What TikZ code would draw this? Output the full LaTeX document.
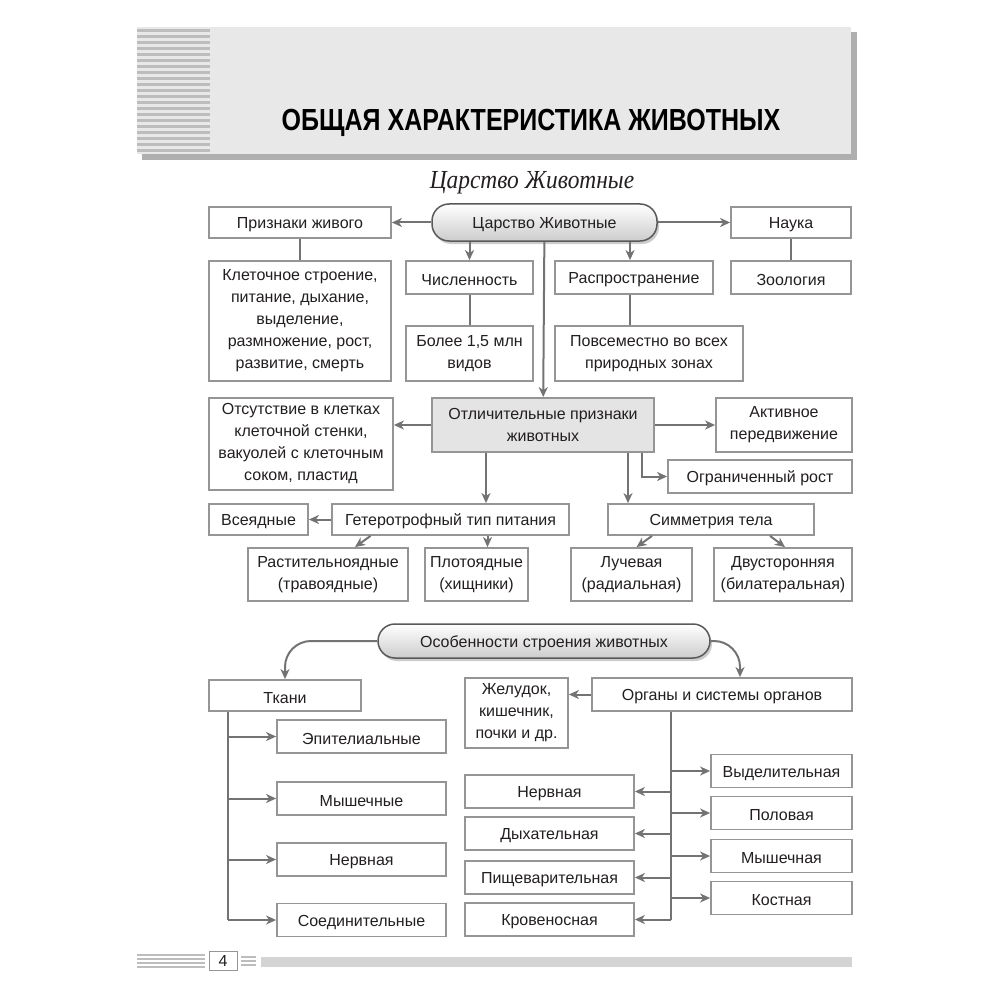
\documentclass[tikz,border=0pt]{standalone}
\usepackage{fontspec}
\setmainfont{Liberation Sans}
\newfontfamily\titlefont[FakeStretch=0.82]{Liberation Sans}
\newfontfamily\subfont[FakeStretch=0.9]{Liberation Serif}
\usetikzlibrary{arrows.meta,shadows}

\definecolor{ink}{HTML}{231F20}
\definecolor{linegray}{HTML}{737373}
\definecolor{boxgray}{HTML}{959595}
\definecolor{headgray}{HTML}{E8E8E8}
\definecolor{shadegray}{HTML}{AFAFAF}
\definecolor{stripegray}{HTML}{BDBDBD}
\definecolor{keygray}{HTML}{E4E4E4}
\definecolor{bargray}{HTML}{D4D4D4}

\newcommand\boxfont{\fontsize{16}{22}\selectfont}

\tikzset{
  box/.style={draw=boxgray, line width=1.8pt, fill=white, inner sep=0pt,
    align=center, text=ink, font=\boxfont,
    execute at begin node={\rule{0pt}{16pt}}},
  keybox/.style={box, fill=keygray},
  pill/.style={draw=black!65, line width=1.5pt, rounded corners=17pt,
    top color=white, bottom color=black!20, inner sep=0pt, text=ink,
    font=\boxfont, execute at begin node={\rule{0pt}{16pt}},
    drop shadow={shadow xshift=2pt, shadow yshift=-3pt, fill=black!40}},
  conn/.style={draw=linegray, line width=2pt},
  arr/.style={conn, -{Stealth[length=10pt,width=9pt,inset=3pt]}},
  curvearr/.style={arr, rounded corners=26pt},
}

\begin{document}
\begin{tikzpicture}[x=1pt, y=-1pt]
\useasboundingbox (0,0) rectangle (1000,1000);

% header
\fill[shadegray] (142,32) rectangle (857,160);
\fill[headgray] (137,27) rectangle (851,154);
\foreach \y in {29,35,...,149}
  \fill[stripegray] (137,\y) rectangle (210,\y+3);
\node[font=\titlefont\bfseries\fontsize{30.5}{34}\selectfont, text=black] (title) at (531,122.5) {ОБЩАЯ ХАРАКТЕРИСТИКА ЖИВОТНЫХ};
\node[font=\subfont\itshape\fontsize{26}{30}\selectfont, text=ink] (subtitle) at (532,183) {Царство Животные};

% top block
\node[pill, minimum width=225pt, minimum height=37pt] (tsar) at (544.5,222.5) {Царство Животные};
\node[box, minimum width=182pt, minimum height=31pt] (priz) at (300,222.5) {Признаки живого};
\node[box, minimum width=120pt, minimum height=31pt] (nauka) at (791,222.5) {Наука};
\node[box, minimum width=182pt, minimum height=120pt] (kletoch) at (300,321) {Клеточное строение,\\питание, дыхание,\\выделение,\\размножение, рост,\\развитие, смерть};
\node[box, minimum width=127pt, minimum height=33pt] (chis) at (469.5,277.5) {Численность};
\node[box, minimum width=158pt, minimum height=33pt] (rasp) at (634,277.5) {Распространение};
\node[box, minimum width=120pt, minimum height=33pt] (zool) at (791,277.5) {Зоология};
\node[box, minimum width=127pt, minimum height=55pt] (bolee) at (469.5,353.5) {Более 1,5 млн\\видов};
\node[box, minimum width=188pt, minimum height=55pt] (povs) at (649,353.5) {Повсеместно во всех\\природных зонах};

\draw[arr] (tsar) -- (priz);
\draw[arr] (tsar) -- (nauka);
\draw[arr] (tsar.south -| chis.north) -- (chis.north);
\draw[arr] ([xshift=-4pt]tsar.south -| rasp.north) -- ([xshift=-4pt]rasp.north);
\draw[conn] (priz) -- (kletoch);
\draw[conn] (nauka) -- (zool);
\draw[conn] (chis) -- (bolee);
\draw[conn] ([xshift=-4pt]rasp.south) -- ([xshift=-4pt]rasp.south |- povs.north);

% distinctive features
\node[keybox, minimum width=222pt, minimum height=54pt] (otlich) at (543,425) {Отличительные признаки\\животных};
\node[box, minimum width=184pt, minimum height=92pt] (otsut) at (301,444) {Отсутствие в клетках\\клеточной стенки,\\вакуолей с клеточным\\соком, пластид};
\node[box, minimum width=136pt, minimum height=54pt] (aktiv) at (784,425) {Активное\\передвижение};
\node[box, minimum width=184pt, minimum height=33pt] (ogr) at (760,476.5) {Ограниченный рост};
\node[box, minimum width=99pt, minimum height=31pt] (vse) at (258.5,519.5) {Всеядные};
\node[box, minimum width=237pt, minimum height=31pt] (hetero) at (450.5,519.5) {Гетеротрофный тип питания};
\node[box, minimum width=206pt, minimum height=31pt] (simm) at (711,519.5) {Симметрия тела};
\node[box, minimum width=160pt, minimum height=53pt] (rast) at (328,574.5) {Растительноядные\\(травоядные)};
\node[box, minimum width=103pt, minimum height=53pt] (plot) at (476.5,574.5) {Плотоядные\\(хищники)};
\node[box, minimum width=121pt, minimum height=53pt] (luch) at (631.5,574.5) {Лучевая\\(радиальная)};
\node[box, minimum width=138pt, minimum height=53pt] (dvus) at (783,574.5) {Двусторонняя\\(билатеральная)};

\draw[arr] (tsar) -- (otlich);
\draw[arr] (otlich.west) -- (otlich.west -| otsut.east);
\draw[arr] (otlich) -- (aktiv);
\draw[arr] ([xshift=99pt]otlich.south) |- (ogr.west);
\draw[arr] ([xshift=-57pt]otlich.south) -- ([xshift=-57pt]otlich.south |- hetero.north);
\draw[arr] ([xshift=85pt]otlich.south) -- ([xshift=85pt]otlich.south |- simm.north);
\draw[arr] (hetero) -- (vse);
\draw[arr] ([xshift=-80pt]hetero.south) -- ([xshift=27pt]rast.north);
\draw[arr] ([xshift=37pt]hetero.south) -- ([xshift=37pt]hetero.south |- plot.north);
\draw[arr] ([xshift=-59pt]simm.south) -- ([xshift=5pt]luch.north);
\draw[arr] ([xshift=59pt]simm.south) -- ([xshift=2pt]dvus.north);

% structure
\node[pill, minimum width=332pt, minimum height=34pt] (osob) at (544,641) {Особенности строения животных};
\node[box, minimum width=152pt, minimum height=31pt] (tkani) at (285,695.5) {Ткани};
\node[box, minimum width=260pt, minimum height=33pt] (organy) at (722,694.5) {Органы и системы органов};
\node[box, minimum width=103pt, minimum height=70pt] (zhel) at (516.5,713) {Желудок,\\кишечник,\\почки и др.};

\node[box, minimum width=169pt, minimum height=33pt] (epit) at (361.5,736.5) {Эпителиальные};
\node[box, minimum width=169pt, minimum height=33pt] (mysh) at (361.5,798.5) {Мышечные};
\node[box, minimum width=169pt, minimum height=33pt] (nerv) at (361.5,859.5) {Нервная};
\node[box, minimum width=169pt, minimum height=33pt] (soed) at (361.5,920) {Соединительные};

\node[box, minimum width=169pt, minimum height=33pt] (nervs) at (549.5,791.5) {Нервная};
\node[box, minimum width=169pt, minimum height=33pt] (dyh) at (549.5,833.5) {Дыхательная};
\node[box, minimum width=169pt, minimum height=33pt] (pisch) at (549.5,877.5) {Пищеварительная};
\node[box, minimum width=169pt, minimum height=33pt] (krov) at (549.5,919.5) {Кровеносная};

\node[box, minimum width=141pt, minimum height=33pt] (vydel) at (781.5,771) {Выделительная};
\node[box, minimum width=141pt, minimum height=33pt] (polov) at (781.5,813) {Половая};
\node[box, minimum width=141pt, minimum height=33pt] (myshech) at (781.5,856) {Мышечная};
\node[box, minimum width=141pt, minimum height=33pt] (kostn) at (781.5,898) {Костная};

\draw[curvearr] (osob.west) -| (tkani.north);
\draw[curvearr] (osob.east) -| ([xshift=18pt]organy.north);
\draw[arr] (organy.west) -- (organy.west -| zhel.east);

\coordinate (ttrunk) at ([xshift=20pt]tkani.south west);
\draw[conn] (ttrunk) -- (ttrunk |- soed.west);
\foreach \n in {epit,mysh,nerv,soed}
  \draw[arr] (ttrunk |- \n.west) -- (\n.west);

\coordinate (otrunk) at ([xshift=80pt]organy.south west);
\draw[conn] (otrunk) -- (otrunk |- krov.east);
\foreach \n in {nervs,dyh,pisch,krov}
  \draw[arr] (otrunk |- \n.east) -- (\n.east);
\foreach \n in {vydel,polov,myshech,kostn}
  \draw[arr] (otrunk |- \n.west) -- (\n.west);

% footer
\foreach \y in {955,959,963,967}
  \draw[stripegray, line width=1.5pt] (137,\y) -- (205,\y);
\node[draw=boxgray, line width=1pt, fill=white, minimum width=28pt, minimum height=19pt,
  inner sep=0pt, font=\fontsize{16}{18}\selectfont, text=ink] (page) at (223,961) {4};
\foreach \y in {957,961,965}
  \draw[stripegray, line width=1.5pt] (241,\y) -- (256,\y);
\fill[bargray] (261,957) rectangle (852,967);
\end{tikzpicture}
\end{document}
